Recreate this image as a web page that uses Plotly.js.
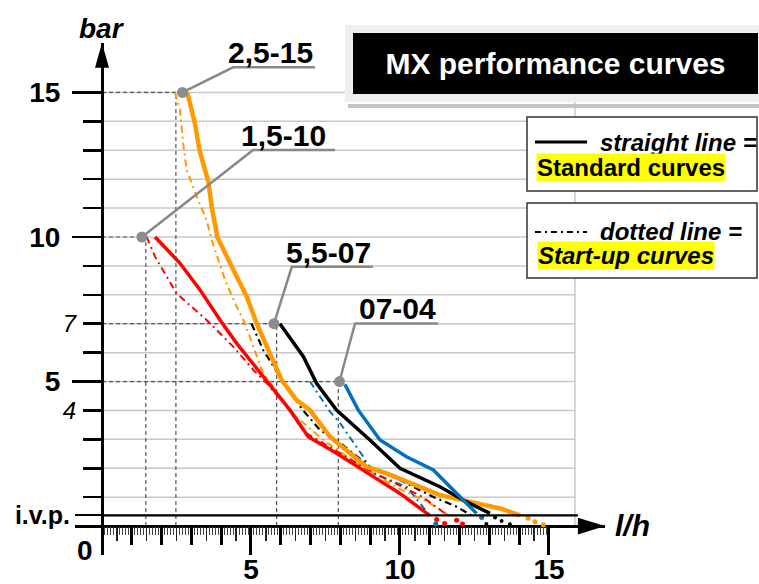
<!DOCTYPE html>
<html><head><meta charset="utf-8">
<script src="https://cdn.plot.ly/plotly-3.0.1.min.js"></script>
<style>html,body{margin:0;padding:0;background:#fff}#chart{width:759px;height:584px}</style>
</head><body><div id="chart"></div>
<script>
// ---------------- data ----------------
// 2,5-15 pump (orange)
const orangeStdX   = [2.86, 3.12, 3.27, 3.57, 3.68, 3.87, 4.41, 4.86, 5.19, 5.64, 6.03, 6.53, 6.98, 7.65, 8.88, 9.55, 11.34, 13.36, 14.03];
const orangeStdY   = [15.0, 13.93, 13.01, 11.91, 11.05, 10.0, 8.86, 7.93, 7.01, 5.98, 5.05, 4.36, 4.01, 3.09, 2.05, 1.82, 1.07, 0.61, 0.37];
const orangeStartX = [2.45, 2.62, 2.71, 2.84, 3.23, 3.51, 3.68, 4.13, 4.52, 4.80, 5.08, 5.41, 5.75, 6.20, 6.64, 7.40, 8.55, 9.89, 10.90, 11.60];
const orangeStartY = [15.0, 14.39, 13.36, 12.32, 11.28, 10.59, 9.90, 8.51, 7.59, 7.01, 6.20, 5.28, 4.82, 4.13, 3.67, 3.00, 2.17, 1.33, 0.85, 0.40];
const orangeTailX  = [14.30, 14.53, 14.81];
const orangeTailY  = [0.27, 0.15, 0.05];
// 1,5-10 pump (red)
const redStdX   = [1.78, 2.62, 3.29, 3.96, 4.52, 5.41, 5.97, 6.31, 6.92, 7.87, 9.10, 10.00, 10.90, 11.00];
const redStdY   = [10.0, 9.09, 8.17, 7.13, 6.32, 5.17, 4.47, 4.01, 3.09, 2.52, 1.71, 1.13, 0.44, 0.37];
const redStartX = [1.50, 1.78, 2.50, 3.51, 4.41, 5.08, 5.53, 6.20, 6.80, 7.87, 9.00, 10.00, 10.77, 11.60];
const redStartY = [10.0, 9.32, 8.05, 7.13, 6.20, 5.40, 4.94, 4.13, 3.25, 2.60, 1.90, 1.40, 1.00, 0.37];
const redTailX  = [11.23, 11.50, 11.90, 12.10];
const redTailY  = [0.23, 0.09, 0.20, 0.07];
// 5,5-07 pump (black)
const blackStdX   = [5.97, 6.76, 7.20, 7.87, 8.99, 10.00, 11.34, 12.12, 13.02];
const blackStdY   = [7.0, 5.86, 4.94, 4.01, 2.98, 2.00, 1.36, 0.90, 0.44];
const blackStartX = [5.02, 5.41, 5.97, 6.42, 6.75, 7.32, 7.87, 8.99, 10.00, 11.12, 11.90, 12.40];
const blackStartY = [7.0, 6.09, 5.17, 4.47, 4.00, 3.32, 2.98, 2.05, 1.59, 1.01, 0.67, 0.37];
const blackTailX  = [13.19, 13.41, 13.69, 12.90];
const blackTailY  = [0.30, 0.18, 0.06, 0.07];
// 07-04 pump (blue)
const blueStdX   = [8.15, 8.60, 9.33, 10.22, 11.12, 12.57];
const blueStdY   = [4.9, 4.01, 2.98, 2.40, 1.94, 0.44];
const blueStartX = [6.98, 7.65, 7.99, 8.77, 9.10, 10.22, 11.00];
const blueStartY = [5.0, 3.96, 3.56, 2.40, 1.82, 1.36, 0.37];
const blueTailX  = [12.74, 11.20];
const blueTailY  = [0.30, 0.07];

// pump nominal points and labels
const pumpNames  = ["2,5-15", "1,5-10", "5,5-07", "07-04"];
const pumpDotX   = [2.70, 1.34, 5.77, 7.97];
const pumpDotY   = [15, 10, 7, 5];
const pumpFlow   = [2.48, 1.47, 5.86, 7.93];
const leaderElbowX = [4.40, 5.07, 6.37, 8.49];
const leaderEndX   = [7.15, 7.82, 9.09, 11.28];
const leaderY      = [15.87, 13.01, 8.97, 7.01];

// axis ticks / labels
const ivp = 0.37;
const gridY = [1,2,3,4,5,6,7,8,9,10,11,12,13,14,15];
const yShortTicks = [1,2,3,4,6,7,8,9,11,12,13,14];
const yMajorVals = [5, 10, 15];
const yMajorText = ["5", "10", "15"];
const yItalicVals = [4, 7];
const yItalicText = ["4", "7"];
const xIntTicks = [1,2,3,4,6,7,8,9,11,12,13,14];
const xMajorVals = [5, 10, 15];
const xMajorText = ["5", "10", "15"];
const gridEndX = 15.87;

// ---------------- layout helpers ----------------
const W = 759, H = 584;
const M = {l: 75, r: 154, t: 43, b: 29};
const xr = [-0.906, 16.88];
const yr = [-1.0, 16.71];
const PW = W - M.l - M.r, PH = H - M.t - M.b;
const px = v => (v - M.l) / PW;
const py = v => (H - M.b - v) / PH;
const xAxisPos = (0 - yr[0]) / (yr[1] - yr[0]);
const yAxisPos = (0 - xr[0]) / (xr[1] - xr[0]);
const FONT = "Liberation Sans, Arial, Helvetica, sans-serif";

const xHalf = [], xMinor = [];
for (let i = 1; i < 150; i++) {
  if (i % 10 === 0) continue;
  if (i % 5 === 0) xHalf.push(i / 10); else xMinor.push(i / 10);
}

// ---------------- traces ----------------
const DD = "7px,4px,2px,4px";
function line(x, y, color, width, dash) {
  return {x, y, type: "scatter", mode: "lines", hoverinfo: "skip",
          line: {color, width, dash: dash || "solid"}, showlegend: false};
}
function dots(x, y, color, size) {
  return {x, y, type: "scatter", mode: "markers", hoverinfo: "skip",
          marker: {color, size}, showlegend: false};
}
const traces = [
  line(orangeStartX, orangeStartY, "#ff9900", 2, DD),
  line(blueStartX, blueStartY, "#0070c0", 2, DD),
  line(blackStartX, blackStartY, "#000000", 2.2, DD),
  line(redStartX, redStartY, "#ff0000", 2, DD),
  line(orangeStdX, orangeStdY, "#ff9900", 4.5),
  line(blackStdX, blackStdY, "#000000", 3.5),
  line(blueStdX, blueStdY, "#0070c0", 3.5),
  line(redStdX, redStdY, "#ff0000", 3.5),
  dots(orangeTailX, orangeTailY, "#ff9900", 5),
  dots(redTailX, redTailY, "#ff0000", 5),
  dots(blackTailX, blackTailY, "#000000", 4),
  dots(blueTailX, blueTailY, "#0070c0", 5)
];
// leader lines
for (let i = 0; i < pumpNames.length; i++) {
  traces.push(line([pumpDotX[i], leaderElbowX[i], leaderEndX[i]],
                   [pumpDotY[i], leaderY[i], leaderY[i]], "#888888", 2.5));
}
traces.push(dots(pumpDotX, pumpDotY, "#8c8c8c", 11));
// invisible carriers so the overlay tick axes are drawn
[["x2","y2"],["x3","y3"],["x4","y4"],["x5","y"]].forEach(([a, b]) => traces.push({
  x: [1], y: [1], xaxis: a, yaxis: b, type: "scatter", mode: "markers",
  marker: {opacity: 0}, hoverinfo: "skip", showlegend: false}));

// ---------------- shapes ----------------
const shapes = [];
gridY.forEach(g => shapes.push({type: "line", xref: "x", yref: "y", x0: 0, x1: gridEndX, y0: g, y1: g,
  line: {color: "#c8c8c8", width: 1.5}, layer: "below"}));
shapes.push({type: "line", xref: "x", yref: "y", x0: gridEndX, x1: gridEndX, y0: 0, y1: 15.5,
  line: {color: "#c8c8c8", width: 1.5}, layer: "below"});
for (let i = 0; i < pumpNames.length; i++) {
  shapes.push({type: "line", xref: "x", yref: "y", x0: pumpFlow[i], x1: pumpFlow[i], y0: 0, y1: pumpDotY[i],
    line: {color: "#555555", width: 1.2, dash: "4px,3px"}, layer: "below"});
  shapes.push({type: "line", xref: "x", yref: "y", x0: 0, x1: Math.max(pumpFlow[i], pumpDotX[i]), y0: pumpDotY[i], y1: pumpDotY[i],
    line: {color: "#555555", width: 1.2, dash: "4px,3px"}, layer: "below"});
}
// i.v.p. line
shapes.push({type: "line", xref: "x", yref: "y", x0: 0, x1: 15.97, y0: ivp, y1: ivp,
  line: {color: "#000", width: 2.2}, layer: "above"});
// arrow heads
shapes.push({type: "path", xref: "x", yref: "y", path: "M -0.235,15.85 L 0,16.71 L 0.235,15.85 Z",
  fillcolor: "#000", line: {width: 0}, layer: "above"});
shapes.push({type: "path", xref: "x", yref: "y", path: "M 15.97,0.29 L 16.88,0 L 15.97,-0.29 Z",
  fillcolor: "#000", line: {width: 0}, layer: "above"});
// title strip
shapes.push({type: "rect", xref: "paper", yref: "paper", x0: px(348), x1: px(760), y0: py(108), y1: py(104),
  fillcolor: "#c4c4c4", line: {width: 0}, layer: "above"});
// legend boxes
shapes.push({type: "rect", xref: "paper", yref: "paper", x0: px(527), x1: px(757), y0: py(191), y1: py(117),
  fillcolor: "#fff", line: {color: "#333", width: 1.5}, layer: "above"});
shapes.push({type: "rect", xref: "paper", yref: "paper", x0: px(527), x1: px(757), y0: py(278), y1: py(203),
  fillcolor: "#fff", line: {color: "#333", width: 1.5}, layer: "above"});
shapes.push({type: "line", xref: "paper", yref: "paper", x0: px(535), x1: px(587), y0: py(142), y1: py(142),
  line: {color: "#000", width: 3}, layer: "above"});
shapes.push({type: "line", xref: "paper", yref: "paper", x0: px(535), x1: px(587), y0: py(232), y1: py(232),
  line: {color: "#000", width: 1.8, dash: "6px,4px,2px,4px"}, layer: "above"});

// ---------------- annotations ----------------
const ann = [];
function txt(text, x, y, size, opts) {
  return Object.assign({text, xref: "paper", yref: "paper", x: px(x), y: py(y), showarrow: false,
    xanchor: "center", yanchor: "middle",
    font: {family: FONT, size, color: "#000", weight: "bold"}}, opts || {});
}
ann.push({text: "MX performance curves", xref: "paper", yref: "paper", x: px(555.5), y: py(63.5),
  xanchor: "center", yanchor: "middle", showarrow: false, width: 405, height: 61,
  bgcolor: "#000", bordercolor: "#efefef", borderwidth: 8, borderpad: 0,
  font: {family: FONT, size: 30, color: "#fff", weight: "bold"}});
ann.push(txt("bar", 102, 28, 28, {font: {family: FONT, size: 28, color: "#000", weight: "bold", style: "italic"}}));
ann.push(txt("l/h", 632, 525, 30, {font: {family: FONT, size: 30, color: "#000", weight: "bold", style: "italic"}}));
ann.push(txt("0", 85, 550, 28));
ann.push(txt("straight line =", 598, 142, 24, {xanchor: "left", font: {family: FONT, size: 24, color: "#000", weight: "bold", style: "italic"}}));
ann.push(txt("Standard curves", 536, 167, 24, {xanchor: "left", bgcolor: "#ffff00", borderpad: 0}));
ann.push(txt("dotted line =", 598, 231, 24, {xanchor: "left", font: {family: FONT, size: 24, color: "#000", weight: "bold", style: "italic"}}));
ann.push(txt("Start-up curves", 537, 255, 24, {xanchor: "left", bgcolor: "#ffff00", borderpad: 0,
  font: {family: FONT, size: 24, color: "#000", weight: "bold", style: "italic"}}));
for (let i = 0; i < pumpNames.length; i++) {
  ann.push({text: pumpNames[i], xref: "x", yref: "y", x: leaderEndX[i] - (i === 1 ? 0.23 : 0), y: leaderY[i],
    xanchor: "right", yanchor: "bottom", yshift: -4, showarrow: false,
    font: {family: FONT, size: 30, color: "#000", weight: "bold"}});
}

// ---------------- axes ----------------
const xBase = {range: xr, anchor: "free", position: xAxisPos, showgrid: false, zeroline: false,
  showline: false, ticks: "outside", tickcolor: "#000", tickmode: "array", fixedrange: true};
const yBase = {range: yr, anchor: "free", position: yAxisPos, showgrid: false, zeroline: false,
  showline: false, ticks: "outside", tickcolor: "#000", tickmode: "array", fixedrange: true};

const layout = {
  width: W, height: H, margin: M, paper_bgcolor: "#fff", plot_bgcolor: "rgba(0,0,0,0)",
  showlegend: false, font: {family: FONT},
  xaxis: Object.assign({}, xBase, {zeroline: true, zerolinecolor: "#000", zerolinewidth: 3,
    tickvals: xIntTicks, ticklen: 18, tickwidth: 3, showticklabels: false}),
  xaxis2: Object.assign({}, xBase, {overlaying: "x", tickvals: xMinor, ticklen: 8, tickwidth: 1, tickcolor: "#444", showticklabels: false}),
  xaxis3: Object.assign({}, xBase, {overlaying: "x", tickvals: xHalf, ticklen: 14, tickwidth: 1.3, tickcolor: "#222", showticklabels: false}),
  xaxis4: Object.assign({}, xBase, {overlaying: "x", tickvals: xMajorVals, ticklen: 28, tickwidth: 3, showticklabels: false}),
  xaxis5: Object.assign({}, xBase, {overlaying: "x", tickvals: xMajorVals, ticktext: xMajorText, ticklen: 18, tickwidth: 3,
    tickfont: {family: FONT, size: 28, color: "#000", weight: "bold"}}),
  yaxis: Object.assign({}, yBase, {zeroline: true, zerolinecolor: "#000", zerolinewidth: 3,
    tickvals: yShortTicks, ticklen: 19, tickwidth: 2.5, showticklabels: false}),
  yaxis2: Object.assign({}, yBase, {overlaying: "y", tickvals: yMajorVals, ticktext: yMajorText, ticklen: 30, tickwidth: 2.5,
    ticklabelstandoff: 6, tickfont: {family: FONT, size: 28, color: "#000", weight: "bold"}}),
  yaxis3: Object.assign({}, yBase, {overlaying: "y", tickvals: yItalicVals, ticktext: yItalicText, ticklen: 19, tickwidth: 2.5,
    ticklabelstandoff: 2, tickfont: {family: FONT, size: 24, color: "#000", style: "italic"}}),
  yaxis4: Object.assign({}, yBase, {overlaying: "y", tickvals: [ivp], ticktext: ["i.v.p."], ticklen: 27, tickwidth: 2.2,
    ticklabelstandoff: 0, tickfont: {family: FONT, size: 25, color: "#000", weight: "bold"}}),
  shapes, annotations: ann
};

Plotly.newPlot("chart", traces, layout, {staticPlot: true, displayModeBar: false});
</script></body></html>
